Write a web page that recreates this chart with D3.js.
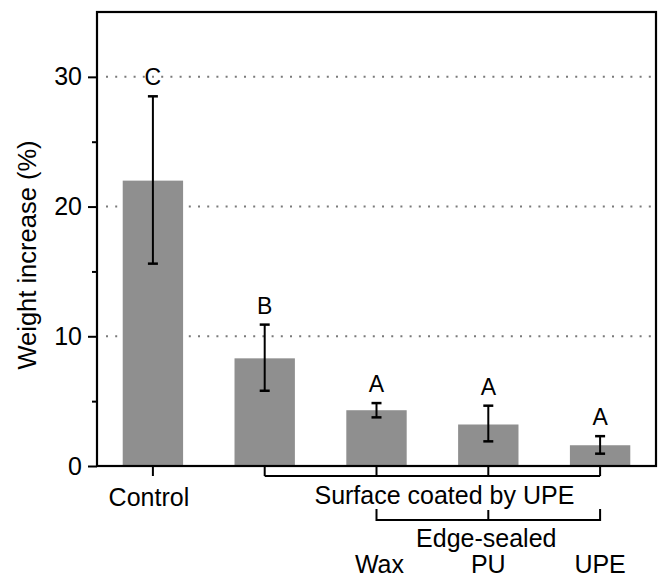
<!DOCTYPE html>
<html><head><meta charset="utf-8">
<script src="https://cdn.jsdelivr.net/npm/d3@7"></script>
<style>body{margin:0;background:#fff}svg{display:block}</style>
</head><body><svg id="c" width="662" height="579"></svg>
<script>
// ---- data ----
const categories = ["Control", "Surface", "Wax", "PU", "UPE"];
const means = [22.0, 8.3, 4.3, 3.2, 1.6];
const errLow = [15.6, 5.8, 3.75, 1.9, 0.95];
const errHigh = [28.5, 10.9, 4.85, 4.65, 2.3];
const letters = ["C", "B", "A", "A", "A"];
const yTicks = [0, 10, 20, 30];
const yMinorTicks = [5, 15, 25];
const gridValues = [10, 20, 30];
const yTitle = "Weight increase (%)";
const groupLabel = "Surface coated by UPE";
const subGroupLabel = "Edge-sealed";
const subLabels = ["Wax", "PU", "UPE"];

// ---- layout ----
const W = 662, H = 579;
const L = 97, R = 656, T = 12, B = 466;
const FONT = "'Liberation Sans', Arial, Helvetica, sans-serif";

const svg = d3.select("#c");
const x = d3.scaleBand().domain(categories).range([L, R]).paddingInner(0.46).paddingOuter(0.23);
const y = d3.scaleLinear().domain([0, 35]).range([B, T]);
const cx = c => x(c) + x.bandwidth() / 2;

// gridlines
svg.append("g").selectAll("line").data(gridValues).join("line")
  .attr("x1", L + 9).attr("x2", R - 2)
  .attr("y1", d => y(d)).attr("y2", d => y(d))
  .attr("stroke", "#7a7a7a").attr("stroke-width", 2)
  .attr("stroke-dasharray", "2,7.2");

// bars
svg.append("g").selectAll("rect").data(categories).join("rect")
  .attr("x", d => x(d)).attr("width", x.bandwidth())
  .attr("y", (d, i) => y(means[i]))
  .attr("height", (d, i) => y(0) - y(means[i]))
  .attr("fill", "#8f8f8f");

// error bars
const eg = svg.append("g").attr("stroke", "#000");
categories.forEach((c, i) => {
  const xc = cx(c);
  eg.append("line").attr("x1", xc).attr("x2", xc)
    .attr("y1", y(errLow[i])).attr("y2", y(errHigh[i])).attr("stroke-width", 2);
  [errLow[i], errHigh[i]].forEach(v => {
    eg.append("line").attr("x1", xc - 5).attr("x2", xc + 5)
      .attr("y1", y(v)).attr("y2", y(v)).attr("stroke-width", 2.5);
  });
});

// significance letters
svg.append("g").selectAll("text").data(categories).join("text")
  .attr("x", d => cx(d))
  .attr("y", (d, i) => y(errHigh[i]) - 11)
  .attr("text-anchor", "middle")
  .attr("font-family", FONT).attr("font-size", 23)
  .text((d, i) => letters[i]);

// y axis
const yAxis = d3.axisLeft(y).tickValues(yTicks).tickSize(9).tickPadding(6).tickFormat(d3.format("d"));
const ya = svg.append("g").attr("transform", `translate(${L},0)`).call(yAxis);
ya.select(".domain").remove();
ya.selectAll("line").attr("stroke", "#000").attr("stroke-width", 2);
ya.selectAll("text").attr("font-family", FONT).attr("font-size", 25).attr("fill", "#000");
const yMinor = d3.axisLeft(y).tickValues(yMinorTicks).tickSize(5).tickFormat("");
const ym = svg.append("g").attr("transform", `translate(${L},0)`).call(yMinor);
ym.select(".domain").remove();
ym.selectAll("line").attr("stroke", "#000").attr("stroke-width", 2);

// x axis ticks (down)
const xAxis = d3.axisBottom(x).tickSize(10).tickFormat("");
const xa = svg.append("g").attr("transform", `translate(0,${B})`).call(xAxis);
xa.select(".domain").remove();
xa.selectAll("line").attr("stroke", "#000").attr("stroke-width", 2);

// frame
svg.append("rect").attr("x", L).attr("y", T).attr("width", R - L).attr("height", B - T)
  .attr("fill", "none").attr("stroke", "#000").attr("stroke-width", 2.2);

// bracket 1 (Surface coated by UPE)
const b1y = B + 10;
svg.append("line").attr("x1", cx(categories[1])).attr("x2", cx(categories[4]))
  .attr("y1", b1y).attr("y2", b1y).attr("stroke", "#000").attr("stroke-width", 2);

// bracket 2 (Edge-sealed)
const b2y = 520, b2t = 509;
const bg = svg.append("g").attr("stroke", "#000").attr("stroke-width", 2).attr("fill", "none");
bg.append("path").attr("d",
  `M${cx(categories[2])},${b2t}V${b2y}H${cx(categories[4])}V${b2t}`);
bg.append("line").attr("x1", cx(categories[3])).attr("x2", cx(categories[3]))
  .attr("y1", b2t + 1).attr("y2", b2y);

// labels
const txt = (tx, ty, s, size) => svg.append("text").attr("x", tx).attr("y", ty)
  .attr("text-anchor", "middle").attr("font-family", FONT).attr("font-size", size || 25).text(s);
txt(cx(categories[0]) - 4, 506, categories[0]);
txt((cx(categories[1]) + cx(categories[4])) / 2 + 12, 504, groupLabel);
txt(cx(categories[3]) - 2, 547, subGroupLabel);
subLabels.forEach((s, i) => txt(cx(categories[i + 2]) + (i === 0 ? 3 : 0), 573, s));

// y title
svg.append("text").attr("transform", `translate(36,255) rotate(-90)`)
  .attr("text-anchor", "middle").attr("font-family", FONT).attr("font-size", 25.5)
  .text(yTitle);
</script></body></html>
